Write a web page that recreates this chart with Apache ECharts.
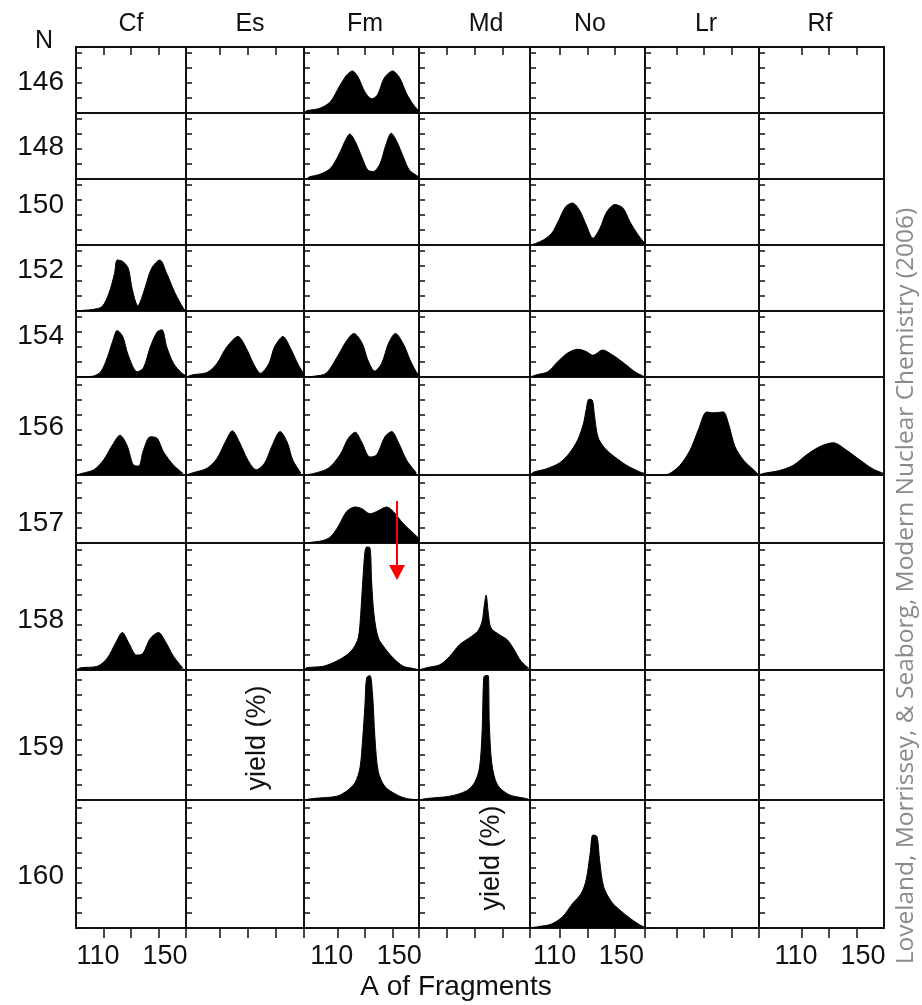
<!DOCTYPE html>
<html><head><meta charset="utf-8">
<script src="https://cdn.jsdelivr.net/npm/echarts@6/dist/echarts.min.js"></script>
<style>html,body{margin:0;padding:0;background:#fff}#c{width:922px;height:1005px}</style>
</head><body><div id="c"></div>
<script>
// ---------- categories ----------
const elements = ['Cf','Es','Fm','Md','No','Lr','Rf'];
const neutronNumbers = [146,148,150,152,154,156,157,158,159,160];
const xTickValues = [110,130,150];
const xLabelValues = [110,150];
const labelledColumns = ['Cf','Fm','No','Rf'];
// mass-number range of each element's axis
const xMins = [90,86,86,90,88,87,79];
const xMaxs = [170,170,169,170,172,170,170];

// ---------- series values: [A of fragment, yield %] ----------
const fm146 = [[86,0],[88,0.3],[97,0.6],[105,1.5],[112,3.7],[117,5.1],[121,5.6],[125,4.8],[130,2.8],[135,1.9],[139,2.4],[144,4.7],[150,5.6],[155,4.7],[160,2.6],[165,1.1],[169,0.3]];
const fm148 = [[88,0],[90,0.3],[97,0.6],[105,1.4],[111,3.2],[116,5.2],[119,6.0],[123,5.0],[128,2.8],[132,1.2],[136,1.0],[141,2.1],[145,4.5],[149,6.1],[153,5.0],[158,2.8],[162,1.2],[167,0.5],[169,0.3]];
const no150 = [[88,0],[92,0.2],[98,0.7],[104,1.6],[109,3.3],[114,5.1],[119,5.6],[124,4.7],[129,2.7],[134,0.9],[139,2.2],[144,4.4],[150,5.4],[156,4.9],[161,3.1],[166,1.6],[171,0.4],[172,0.3]];
const cf152 = [[90,0],[96,0.1],[102,0.2],[109,0.6],[114,2.4],[118,5.0],[120,6.8],[124,6.6],[128,5.7],[131,2.8],[135,0.7],[139,2.4],[145,5.7],[151,6.8],[156,5.0],[162,2.4],[168,0.4],[170,0]];
const cf154 = [[90,0],[102,0.1],[108,0.7],[113,2.7],[116.5,4.7],[120,6.2],[124,5.4],[128,2.9],[134.5,0.7],[139,1.2],[144,4.0],[149,6.0],[152.5,6.3],[156,4.0],[161,1.8],[167,0.5],[170,0.2]];
const es154 = [[86,0],[91,0.3],[101,0.6],[108,1.8],[115,4.0],[123,5.4],[129,3.8],[134,1.8],[139,0.5],[145,1.8],[149,4.0],[155,5.4],[161,3.6],[166,1.6],[170,0.4]];
const fm154 = [[86,0],[93,0.1],[102,0.5],[110,2.7],[117,4.9],[122,5.8],[128,4.5],[132,2.3],[137,0.8],[142,1.8],[147,4.5],[152,5.8],[158,4.3],[162.5,2.3],[167,0.7],[169,0.3]];
const no154 = [[88,0],[93,0.3],[101,0.7],[108,2.0],[115.5,3.2],[123,3.7],[129,3.4],[134,2.9],[141,3.6],[148.6,2.9],[157,1.8],[164.6,0.7],[171,0.1]];
const cf156 = [[90,0],[94,0.2],[103,0.7],[110,2.0],[116.5,4.0],[122,5.3],[127,4.0],[132,1.3],[135.6,1.2],[139,3.3],[144,5.1],[149,4.9],[153.6,3.1],[161,1.3],[168,0.2]];
const es156 = [[86,0],[91,0.3],[101,0.9],[108,2.2],[114,4.4],[119,5.9],[124,4.4],[130,2.0],[136,0.7],[142,1.6],[147,3.8],[153,5.8],[158,4.4],[162,2.0],[168,0.2]];
const fm156 = [[86,0],[93,0.2],[103.5,0.9],[112,2.7],[118,4.9],[123,5.7],[127.6,4.4],[133.6,2.4],[138.5,2.7],[144.4,5.1],[149.3,5.8],[154,4.4],[160,2.0],[167,0.3]];
const no156 = [[88,0],[91,0.4],[99.6,0.8],[109.4,1.6],[116.7,2.9],[122.9,4.7],[127.1,6.9],[129,8.7],[131,10.1],[133.5,10.0],[135.2,7.8],[137.6,5.1],[142.5,3.6],[150,2.4],[158.5,1.3],[168.3,0.4],[172,0.2]];
const lr156 = [[87,0],[100,0],[105,0.2],[112.5,1.3],[119.8,3.3],[125.8,6.0],[131.9,8.4],[136.7,8.3],[144,8.4],[147.7,6.9],[152.5,3.8],[158.6,2.0],[166,0.7],[169.5,0.1]];
const rf156 = [[79,0],[82,0.2],[94,0.6],[104,1.3],[113.7,2.7],[123.4,3.8],[133,4.3],[142.8,3.3],[152.5,2.0],[162,0.8],[170,0.2]];
const fm157 = [[86,0],[99,0.3],[105,0.8],[110.7,2.2],[116.8,4.2],[122.8,4.8],[127.6,4.6],[133.6,3.9],[138.5,4.2],[145.7,4.8],[150.4,4.2],[157.6,2.6],[165,1.3],[169,0.6]];
const cf158 = [[90,0],[93.6,0.3],[105.6,0.5],[112.8,1.6],[118.8,3.6],[123.7,5.0],[128.4,3.6],[134,2.0],[138,2.1],[144,4.2],[150,5.0],[155,3.8],[161,1.8],[168,0.2]];
const fm158 = [[86,0],[88,0.3],[100,0.5],[109.6,1.2],[116.8,2.0],[121.6,2.9],[125.2,4.3],[126.9,7.4],[128.4,11.8],[130,15.8],[131.2,16.4],[133.6,16.3],[134.8,11.8],[136.5,7.4],[139.6,4.3],[144.4,2.9],[150.4,1.6],[157.6,0.5],[165,0.2],[169,0]];
const md158 = [[90,0],[95.5,0.3],[105,0.7],[112,1.8],[119.3,3.4],[126.4,4.3],[132.4,5.2],[135.5,6.5],[137.1,8.7],[138.4,10.0],[139.8,7.8],[141.9,5.6],[148,4.7],[153.8,4.0],[158.6,2.7],[163.4,1.2],[169.3,0.2]];
const fm159 = [[86,0],[92.7,0.2],[109.6,0.5],[116.8,1.2],[122.8,2.3],[126.4,4.3],[128.4,8.3],[130,12.7],[131.2,16.3],[133.6,16.6],[135.5,14.0],[137.2,8.3],[139.6,3.8],[144.4,1.8],[152.9,0.7],[160,0.2],[169,0]];
const md159 = [[90,0],[95.5,0.2],[112,0.5],[124,1.2],[130,2.3],[133.6,4.3],[135.5,9.2],[136.6,16.3],[137.9,16.6],[139.8,16.6],[140.7,10.0],[142.6,4.7],[146.6,2.0],[155,0.7],[167,0.2],[170,0]];
const no160 = [[88,0],[94.6,0.2],[103.3,0.5],[111.8,1.5],[119.2,3.3],[125.4,4.6],[129,6.4],[132,10.0],[133.9,12.4],[136.9,12.2],[138.8,9.1],[141.8,5.5],[147.5,3.5],[153.6,2.4],[161,1.3],[168.3,0.4],[172,0.1]];

const cells = [
  {el:'Fm',n:146,data:fm146},{el:'Fm',n:148,data:fm148},{el:'No',n:150,data:no150},
  {el:'Cf',n:152,data:cf152},
  {el:'Cf',n:154,data:cf154},{el:'Es',n:154,data:es154},{el:'Fm',n:154,data:fm154},{el:'No',n:154,data:no154},
  {el:'Cf',n:156,data:cf156},{el:'Es',n:156,data:es156},{el:'Fm',n:156,data:fm156},{el:'No',n:156,data:no156},{el:'Lr',n:156,data:lr156},{el:'Rf',n:156,data:rf156},
  {el:'Fm',n:157,data:fm157},
  {el:'Cf',n:158,data:cf158},{el:'Fm',n:158,data:fm158},{el:'Md',n:158,data:md158},
  {el:'Fm',n:159,data:fm159},{el:'Md',n:159,data:md159},
  {el:'No',n:160,data:no160}
];

// ---------- layout ----------
const colEdges = [76,186,304,419,530,645,759,884];
const rowEdges = [47,113,179,245,311,377,475,543,670,800,928];
const PX_PER_PCT = 7.5;           // same yield scale in every row
const headerX = [131,250,365,486,590,706,820];
const rowLabelY = [82,147,205,270,336,427,523,620,747,876];
const FONT = '"Liberation Sans", Arial, sans-serif';
const INK = '#111';

const grids = [], xAxes = [], yAxes = [], series = [];
const nRows = neutronNumbers.length, nCols = elements.length;
for (let r = 0; r < nRows; r++) {
  for (let c = 0; c < nCols; c++) {
    const i = grids.length;
    const h = rowEdges[r+1] - rowEdges[r];
    grids.push({left: colEdges[c], top: rowEdges[r], width: colEdges[c+1]-colEdges[c], height: h,
      show: true, borderColor: INK, borderWidth: 2, backgroundColor: 'transparent', outerBoundsMode: 'none'});
    const isTop = r === 0, isBottom = r === nRows - 1;
    const lbl = isBottom && labelledColumns.includes(elements[c]);
    xAxes.push({gridIndex: i, type: 'value', min: xMins[c], max: xMaxs[c],
      position: isTop ? 'top' : 'bottom', show: isTop || isBottom,
      axisLine: {show: false, onZero: false}, splitLine: {show: false},
      axisTick: {show: true, inside: isTop, length: isTop ? 8 : 10,
        customValues: (isBottom && c > 0) ? [xMins[c]].concat(xTickValues) : xTickValues,
        lineStyle: {color: INK, width: 1.5}},
      axisLabel: {show: lbl, customValues: xLabelValues, margin: 15, color: INK,
        fontFamily: FONT, fontSize: 27,
        formatter: v => v === xLabelValues[0] ? '{l|' + v + '}' : '{r|' + v + '}',
        rich: {l: {padding: [0,11,0,0], fontFamily: FONT, fontSize: 27, color: INK},
               r: {padding: [0,0,0,13], fontFamily: FONT, fontSize: 27, color: INK}}}
    });
    yAxes.push({gridIndex: i, type: 'value', min: 0, max: h / PX_PER_PCT, interval: 2,
      axisLine: {show: false, onZero: false}, axisLabel: {show: false}, splitLine: {show: false},
      axisTick: {show: true, inside: true, length: 6, lineStyle: {color: INK, width: 1.5}}});
  }
}
cells.forEach(cell => {
  const r = neutronNumbers.indexOf(cell.n), c = elements.indexOf(cell.el);
  const i = r * nCols + c;
  series.push({type: 'line', name: cell.el + '-' + cell.n, xAxisIndex: i, yAxisIndex: i,
    data: cell.data, symbol: 'none', silent: true, z: 3, smooth: 0.3,
    lineStyle: {color: '#000', width: 1}, areaStyle: {color: '#000', opacity: 1}});
});

const graphic = [];
elements.forEach((el, c) => graphic.push({type: 'text', x: headerX[c], y: 24,
  style: {text: el, font: '25px ' + FONT, fill: INK, textAlign: 'center', textVerticalAlign: 'middle'}}));
neutronNumbers.forEach((n, r) => graphic.push({type: 'text', x: 64, y: rowLabelY[r],
  style: {text: String(n), font: '28px ' + FONT, fill: INK, textAlign: 'right', textVerticalAlign: 'middle'}}));
graphic.push({type: 'text', x: 44, y: 41, style: {text: 'N', font: '25px ' + FONT, fill: INK, textAlign: 'center', textVerticalAlign: 'middle'}});
graphic.push({type: 'text', x: 258, y: 738, rotation: Math.PI/2, style: {text: 'yield (%)', font: '27px ' + FONT, fill: INK, textAlign: 'center', textVerticalAlign: 'middle'}});
graphic.push({type: 'text', x: 492, y: 858, rotation: Math.PI/2, style: {text: 'yield (%)', font: '27px ' + FONT, fill: INK, textAlign: 'center', textVerticalAlign: 'middle'}});
graphic.push({type: 'text', x: 456, y: 987, style: {text: 'A of Fragments', font: '28px ' + FONT, fill: INK, textAlign: 'center', textVerticalAlign: 'middle'}});
graphic.push({type: 'text', x: 906, y: 586, rotation: Math.PI/2, style: {text: 'Loveland, Morrissey, & Seaborg, Modern Nuclear Chemistry (2006)', font: '24.5px "Open Sans", sans-serif', fill: '#8a8a8a', textAlign: 'center', textVerticalAlign: 'middle'}});
// red annotation arrow
graphic.push({type: 'line', shape: {x1: 397, y1: 501, x2: 397, y2: 567}, style: {stroke: '#ff0000', lineWidth: 2}, z: 10});
graphic.push({type: 'polygon', shape: {points: [[389,565],[405,565],[397,580]]}, style: {fill: '#ff0000'}, z: 10});

const chart = echarts.init(document.getElementById('c'), null, {renderer: 'canvas'});
chart.setOption({animation: false, backgroundColor: '#fff', grid: grids, xAxis: xAxes, yAxis: yAxes, series, graphic});
</script></body></html>
